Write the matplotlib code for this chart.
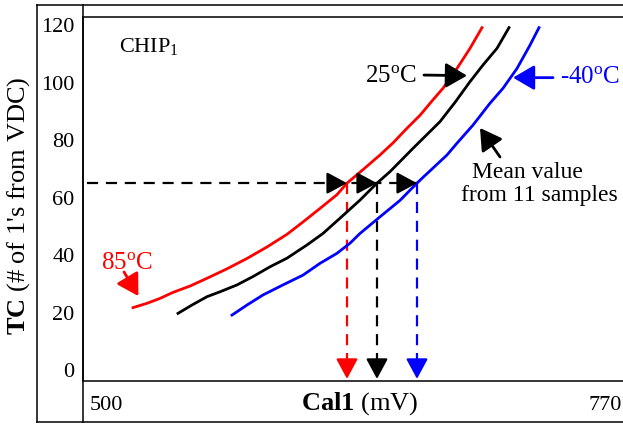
import matplotlib
matplotlib.use('Agg')
import matplotlib.pyplot as plt
from matplotlib.lines import Line2D

plt.rcParams.update({
    'font.family': ['Liberation Serif', 'DejaVu Serif'],
    'mathtext.fontset': 'custom',
    'mathtext.rm': 'Liberation Serif',
    'mathtext.it': 'Liberation Serif:italic',
    'mathtext.bf': 'Liberation Serif:bold',
    'figure.facecolor': 'white',
})

# === data ===
red_x = [525.0, 532.0, 538.5, 545.0, 553.5, 562.0, 572.0, 582.0, 592.0, 602.0,
         610.0, 618.5, 627.0, 632.0, 640.0, 648.5, 655.0, 662.0, 668.5, 675.0,
         680.0, 687.0, 693.5, 699.5]
red_y = [21.7, 23.2, 24.9, 27.0, 29.2, 31.9, 35.2, 38.8, 42.8, 47.2,
         51.5, 56.2, 61.0, 65.0, 69.7, 74.8, 79.0, 84.1, 88.6, 94.0,
         98.0, 104.9, 111.9, 119.1]

black_x = [547.5, 554.5, 562.0, 568.5, 577.0, 585.0, 593.5, 602.0, 612.0, 620.0,
           628.5, 638.5, 647.0, 653.5, 665.0, 678.5, 686.0, 693.5, 700.0, 707.0,
           713.0]
black_y = [19.7, 22.6, 25.5, 27.2, 29.6, 32.5, 35.9, 38.9, 43.5, 47.5,
           52.8, 59.1, 65.0, 69.0, 77.1, 86.4, 93.1, 100.3, 106.1, 111.9,
           119.1]

blue_x = [574.5, 582.0, 590.0, 600.0, 610.0, 618.5, 627.0, 633.5, 638.5, 648.0,
          658.5, 667.0, 670.0, 682.0, 687.0, 695.0, 703.5, 710.0, 717.0, 723.5,
          728.0]
blue_y = [19.1, 22.6, 26.1, 29.6, 33.0, 37.1, 40.6, 44.1, 47.5, 53.0,
          59.0, 65.0, 67.0, 74.8, 78.9, 85.2, 92.8, 98.0, 104.9, 113.0,
          119.1]

target_tc = 65                     # horizontal read-off level
cross_x = [632, 647, 667]          # where each curve reaches target_tc
cross_colors = ['#ff0000', 'black', '#0000ff']
y_ticks = [0, 20, 40, 60, 80, 100, 120]
x_min, x_max = 500, 770

RED, BLUE, BLACK = '#ff0000', '#0000ff', 'black'

W, H = 623, 426
def fx(px):
    return px / W
def fy(py):
    return 1 - py / H

fig = plt.figure(figsize=(W / 100, H / 100), dpi=100)
ax = fig.add_axes([fx(83), fy(381), fx(623) - fx(83), fy(17) - fy(381)])
ax.set_xlim(x_min, x_max)
ax.set_ylim(-3.83, 122.8)

# curves
ax.plot(red_x, red_y, color=RED, lw=2.0, zorder=3)
ax.plot(black_x, black_y, color=BLACK, lw=2.0, zorder=3)
ax.plot(blue_x, blue_y, color=BLUE, lw=2.0, zorder=3)

# dashed read-off lines
ax.plot([x_min + 2, max(cross_x)], [target_tc, target_tc], color=BLACK,
        lw=1.6, dashes=(5, 3.5), zorder=2)
arrow_style = dict(arrowstyle='-|>,head_length=0.65,head_width=0.35',
                   mutation_scale=19, shrinkA=0, shrinkB=0, lw=1.6)
for cx, col in zip(cross_x, cross_colors):
    ax.plot([cx, cx], [target_tc, 2.5], color=col, lw=1.6, dashes=(5, 3.5), zorder=2)
    # arrow head on horizontal line, tip at the curve
    ax.annotate('', xy=(cx, target_tc), xytext=(-13, 0), textcoords='offset points',
                arrowprops=dict(color=BLACK, **arrow_style), zorder=4)
    # arrow head at the x axis
    ax.annotate('', xy=(cx, -3.1), xytext=(0, 13), textcoords='offset points',
                arrowprops=dict(color=col, **arrow_style), zorder=4)

# labels and pointers
ann_style = dict(arrowstyle='-|>,head_length=0.65,head_width=0.38',
                 mutation_scale=20, shrinkA=0, shrinkB=0, lw=2.0)
ax.text(518, 110.6, r'CHIP$_1$', fontsize=16, ha='left', va='baseline')

ax.text(667, 100.2, r'25$^{\rm o}$C', fontsize=18, ha='right', va='baseline')
ax.annotate('', xy=(692, 102.4), xytext=(670.5, 102.6),
            arrowprops=dict(color=BLACK, **ann_style))

ax.text(738.5, 99.8, r'-40$^{\rm o}$C', fontsize=18, ha='left', va='baseline',
        color=BLUE)
ax.annotate('', xy=(715, 101.7), xytext=(735, 101.7),
            arrowprops=dict(color=BLUE, **ann_style))

ax.text(722, 66.8, 'Mean value', fontsize=17, ha='center', va='baseline')
ax.text(728, 58.8, 'from 11 samples', fontsize=17, ha='center', va='baseline')
ax.annotate('', xy=(698.5, 84.2), xytext=(708.5, 74.1),
            arrowprops=dict(color=BLACK, **ann_style))

ax.text(522, 35.1, r'85$^{\rm o}$C', fontsize=18, ha='center', va='baseline',
        color=RED)
ax.annotate('', xy=(527.7, 25.7), xytext=(520.5, 34.1),
            arrowprops=dict(color=RED, **ann_style))

# axes styling
ax.set_yticks(y_ticks)
ax.tick_params(axis='y', length=0, pad=6, labelsize=16)
ax.set_xticks([])
ax.spines['right'].set_visible(False)
for s in ['top', 'bottom', 'left']:
    ax.spines[s].set_linewidth(1.1)

xt = ax.get_xaxis_transform()
ax.annotate(f'{x_min}', xy=(x_min, -0.0797), xycoords=xt, xytext=(5, 0),
            textcoords='offset points', ha='left', va='baseline', fontsize=16)
ax.annotate(f'{x_max}', xy=(x_max, -0.0797), xycoords=xt, xytext=(-1, 0),
            textcoords='offset points', ha='right', va='baseline', fontsize=16)
ax.text(638.5, -0.0797, r'$\bf{Cal1}$ (mV)', transform=xt, ha='center',
        va='baseline', fontsize=19)

fig.text(fx(19), fy(206), r"$\bf{TC}$ (# of 1's from VDC)", rotation=90,
         ha='center', va='center', fontsize=19)

# outer frame
frame = [((37, 623), (5, 5)), ((37, 623), (422, 422)),
         ((37, 37), (5, 422)), ((83, 83), (5, 422))]
for xs, ys in frame:
    fig.add_artist(Line2D([fx(xs[0]), fx(xs[1])], [fy(ys[0]), fy(ys[1])],
                          transform=fig.transFigure, color='black', lw=1.1))

fig.savefig('out.png', dpi=100, facecolor='white')
